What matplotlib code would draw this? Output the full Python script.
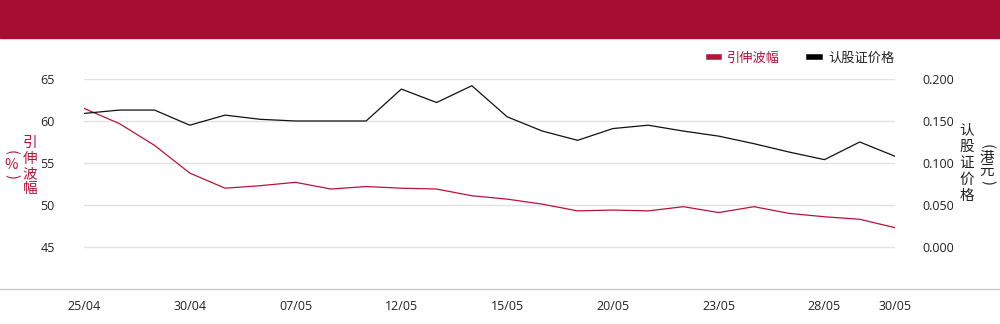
import numpy as np
import matplotlib.pyplot as plt
from matplotlib.patches import Rectangle
from matplotlib.lines import Line2D

plt.rcParams['font.family'] = ['Open Sans', 'Noto Sans CJK SC', 'DejaVu Sans']

dates = ["25/04", "28/04", "29/04", "30/04", "02/05", "06/05", "07/05", "08/05",
         "09/05", "12/05", "13/05", "14/05", "15/05", "16/05", "19/05", "20/05",
         "21/05", "22/05", "23/05", "26/05", "27/05", "28/05", "29/05", "30/05"]
vol = [61.5, 59.7, 57.1, 53.8, 52.0, 52.3, 52.7, 51.9, 52.2, 52.0, 51.9, 51.1,
       50.7, 50.1, 49.3, 49.4, 49.3, 49.8, 49.1, 49.8, 49.0, 48.6, 48.3, 47.3]
price = [0.159, 0.163, 0.163, 0.145, 0.157, 0.152, 0.150, 0.150, 0.150, 0.188,
         0.172, 0.192, 0.155, 0.138, 0.127, 0.141, 0.145, 0.138, 0.132, 0.123,
         0.113, 0.104, 0.125, 0.108]
shown = [0, 3, 6, 9, 12, 15, 18, 21, 23]

red = '#b8123c'
banner = '#a50d32'
cjk = ['Noto Sans CJK SC', 'DejaVu Sans']
W, H = 1000, 324

fig = plt.figure(figsize=(10, 3.24), dpi=100)
fig.patches.append(Rectangle((0, 1 - 38 / H), 1, 38 / H, transform=fig.transFigure,
                             color=banner, zorder=0))
fig.add_artist(Line2D([0, 1], [35 / H, 35 / H], color='#cccccc', lw=1))

ax = fig.add_axes([0.084, 35 / H, 0.811, 210 / H])
ax2 = ax.twinx()
x = np.arange(len(dates))

ax.plot(x, vol, color=red, lw=0.9, zorder=3)
ax2.plot(x, price, color='#111111', lw=0.9, zorder=3)

ax.set_xlim(0, len(dates) - 1)
ax.set_ylim(40, 65)
ax2.set_ylim(-0.05, 0.2)
ax.set_yticks([45, 50, 55, 60, 65])
ax2.set_yticks([0, 0.05, 0.1, 0.15, 0.2])
ax2.set_yticklabels(['%.3f' % v for v in [0, 0.05, 0.1, 0.15, 0.2]])
ax.set_xticks(shown)
ax.set_xticklabels([dates[i] for i in shown])

for a in (ax, ax2):
    for s in a.spines.values():
        s.set_visible(False)
    a.tick_params(length=0, labelsize=9, colors='#222222')
ax.tick_params(axis='y', pad=21)
ax2.tick_params(axis='y', pad=20)
ax.tick_params(axis='x', pad=8)
ax.grid(axis='y', color='#e2e2e2', lw=1)
ax.set_axisbelow(True)


def vtext(xp, yps, chars, color):
    # one character per row, brackets turned sideways
    for ch, yp in zip(chars, yps):
        rot = -90 if ch in '()' else 0
        fig.text(xp / W, 1 - yp / H, ch, color=color, fontsize=10.5, family=cjk,
                 rotation=rot, ha='center', va='center')


vtext(30, [143, 158.5, 174, 189.5], "引伸波幅", red)
vtext(11, [152, 165, 177], "(%)", red)
vtext(967, [130, 146.5, 163, 179.5, 196], "认股证价格", '#222222')
vtext(987, [147, 158, 171, 183], "(港元)", '#222222')

handles = [Line2D([], [], color=red, lw=4), Line2D([], [], color='black', lw=4)]
fig.legend(handles, ["引伸波幅", "认股证价格"], loc='center right',
           bbox_to_anchor=(0.906, 1 - 58 / H), ncol=2, frameon=False,
           prop={'family': cjk, 'size': 9.5},
           handlelength=0.8, handletextpad=0.6, columnspacing=2.2,
           labelcolor=[red, '#222222'])

fig.savefig('out.png', dpi=100)
